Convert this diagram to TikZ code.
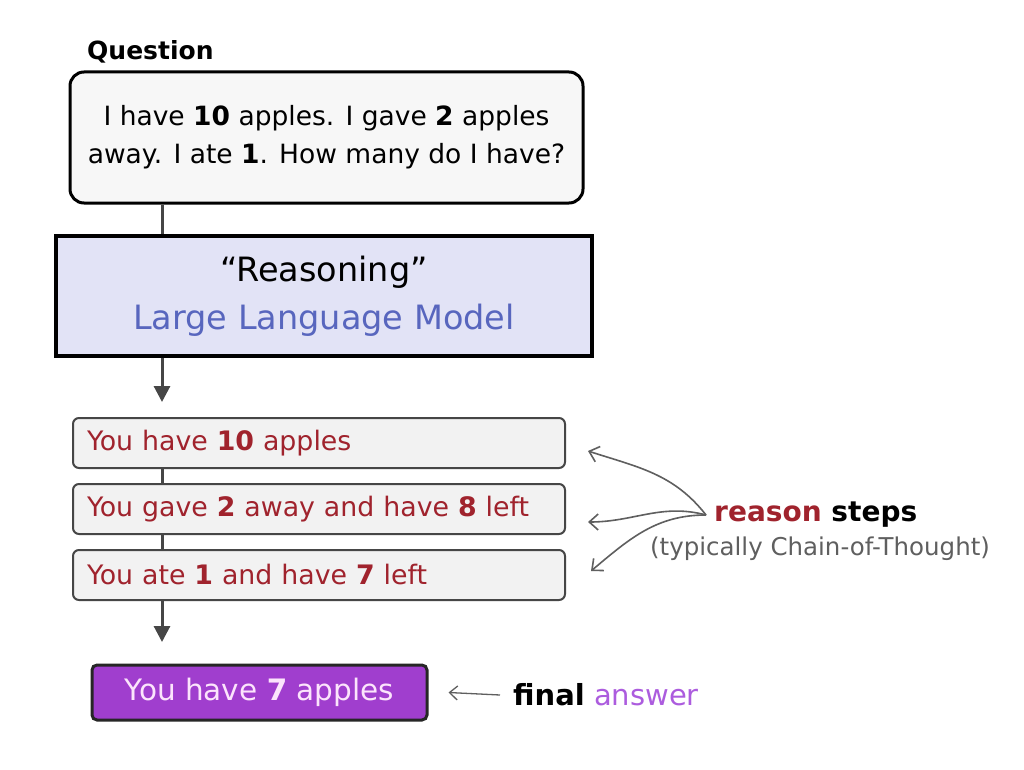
\documentclass[tikz,border=0pt]{standalone}
\usepackage{fontspec}
\setmainfont{DejaVu Sans}
\usetikzlibrary{arrows.meta}
\definecolor{stepred}{RGB}{160,35,45}
\definecolor{llmfill}{RGB}{226,227,246}
\definecolor{llmblue}{RGB}{88,102,190}
\definecolor{finfill}{RGB}{160,62,206}
\definecolor{fintext}{RGB}{252,228,252}
\definecolor{anspurple}{RGB}{172,92,222}
\definecolor{linegray}{RGB}{70,70,70}
\definecolor{notegray}{RGB}{95,95,95}
\tikzset{
  qbox/.style={draw=black, line width=3pt, rounded corners=14pt, fill=black!3,
    minimum width=513pt, minimum height=131pt, align=center, inner sep=0pt},
  llmbox/.style={draw=black, line width=4pt, fill=llmfill,
    minimum width=536pt, minimum height=120pt, align=center, inner sep=0pt},
  stepbox/.style={draw=linegray, line width=2pt, rounded corners=6pt, fill=black!5,
    minimum width=492pt, minimum height=50pt, text width=464pt, align=left,
    inner sep=0pt, text=stepred},
  finbox/.style={draw=black!85, line width=3pt, rounded corners=5pt, fill=finfill,
    minimum width=335pt, minimum height=55pt, inner sep=0pt, text=fintext},
  link/.style={draw=linegray, line width=3pt},
  flow/.style={link, -{Triangle[length=16pt,width=16pt]}},
  note/.style={draw=notegray, line width=1.6pt, -{Straight Barb[length=9pt,width=16pt]}},
  bigtxt/.style={font=\fontsize{26.5}{38}\selectfont},
  midtxt/.style={font=\fontsize{26.8}{30}\selectfont},
}
\begin{document}
\begin{tikzpicture}[x=1pt, y=-1pt]
\useasboundingbox[fill=white] (0,0) rectangle (1024,770);

% question
\node[anchor=south west, font=\fontsize{25}{26}\selectfont\bfseries, inner sep=0pt] (qlabel) at (87,63) {Question};
\node[qbox, bigtxt] (q) at (326.5,137.5)
  {I have \textbf{10} apples. I gave \textbf{2} apples\\away. I ate \textbf{1}. How many do I have?};

% model
\node[llmbox, font=\fontsize{33.5}{48}\selectfont] (llm) at (324,296)
  {``Reasoning''\\\textcolor{llmblue}{Large Language Model}};

% reasoning steps
\node[stepbox, midtxt] (s1) at (319,443) {You have \textbf{10} apples};
\node[stepbox, midtxt] (s2) at (319,509) {You gave \textbf{2} away and have \textbf{8} left};
\node[stepbox, midtxt] (s3) at (319,575) {You ate \textbf{1} and have \textbf{7} left};

% final answer
\node[finbox, font=\fontsize{29.5}{30}\selectfont] (fin) at (259.5,692.5) {You have \textbf{7} apples};

% connectors along the main column
\draw[link] (q.south -| 162,0) -- (llm.north -| 162,0);
\draw[flow] (llm.south -| 162,0) -- (162,402);
\draw[link] (s1.south -| 162,0) -- (s2.north -| 162,0);
\draw[link] (s2.south -| 162,0) -- (s3.north -| 162,0);
\draw[flow] (s3.south -| 162,0) -- (162,642);

% side notes
\node[anchor=west, inner sep=0pt, font=\fontsize{28}{30}\selectfont\bfseries] (rs) at (714,515)
  {\textcolor{stepred}{reason} steps};
\node[anchor=north, inner sep=0pt, text=notegray, font=\fontsize{24.5}{26}\selectfont] (cot) at (820,537)
  {(typically Chain-of-Thought)};
\draw[note] ([xshift=-8pt]rs.west) to[out=128, in=-18] ([xshift=22pt,yshift=-8pt]s1.east);
\draw[note] ([xshift=-8pt]rs.west) to[out=165, in=0] ([xshift=22pt,yshift=-13pt]s2.east);
\draw[note] ([xshift=-8pt]rs.west) to[out=180, in=40] ([xshift=25pt,yshift=4pt]s3.east);

\node[anchor=west, inner sep=0pt, font=\fontsize{29}{30}\selectfont] (ans) at (513,695)
  {\textbf{final} \textcolor{anspurple}{answer}};
\draw[note, line width=1.3pt, -{Straight Barb[length=8pt,width=14pt]}] ([xshift=-13pt]ans.west) -- ([xshift=20pt]fin.east);
\end{tikzpicture}
\end{document}
